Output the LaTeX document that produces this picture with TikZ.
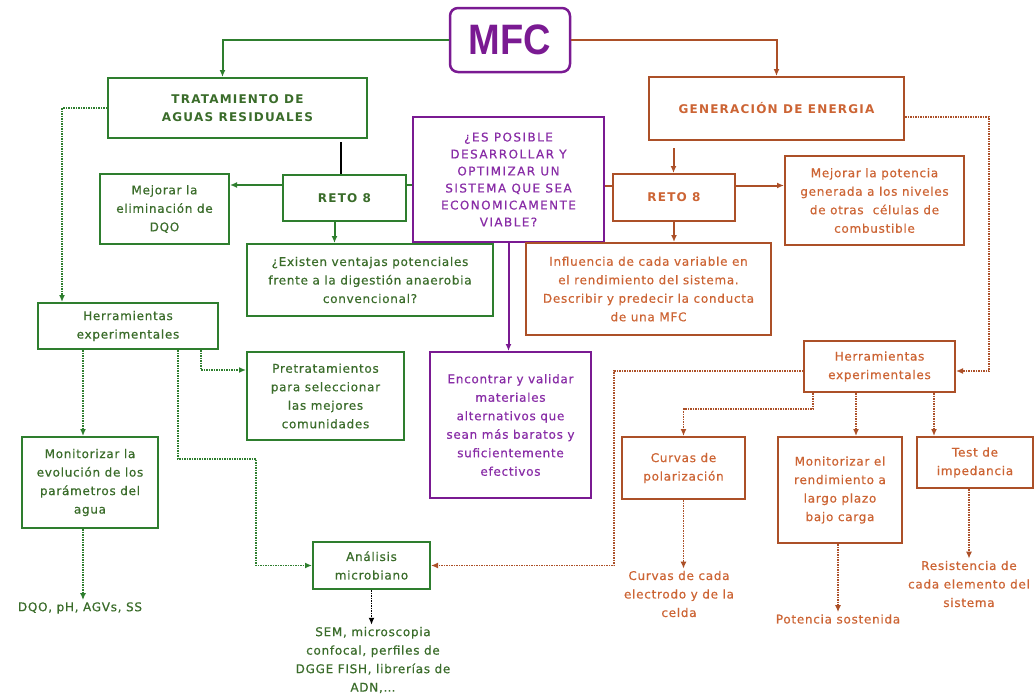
\documentclass[tikz,border=0pt]{standalone}
\usepackage{fontspec}
\setmainfont{DejaVu Sans}[LetterSpace=6,FakeBold=0.6]
\newfontfamily\titlefont{DejaVu Sans Bold}[LetterSpace=10]
\newfontfamily\askfont{DejaVu Sans}[LetterSpace=12,FakeBold=0.6]
\newfontfamily\mfcfont{Liberation Sans Bold}
\usetikzlibrary{arrows.meta}
\definecolor{mfcgreen}{RGB}{46,126,46}
\definecolor{mfcgreentext}{RGB}{58,108,42}
\definecolor{mfcorange}{RGB}{172,80,40}
\definecolor{mfcorangetext}{RGB}{204,100,52}
\definecolor{mfcpurple}{RGB}{122,26,146}
\definecolor{mfcpurpletext}{RGB}{136,44,166}
\def\colg{mfcgreen}
\def\colgt{mfcgreentext}
\def\colo{mfcorange}
\def\colot{mfcorangetext}
\def\colp{mfcpurple}
\def\colpt{mfcpurpletext}
\newcommand\boxfont{\fontsize{12}{18.5}\selectfont}

\begin{document}
\begin{tikzpicture}[x=1pt,y=-1pt]
\tikzstyle{gbox}=[draw=\colg, line width=2pt, text=\colgt, align=center, inner sep=2pt, font=\boxfont]
\tikzstyle{obox}=[draw=\colo, line width=2pt, text=\colot, align=center, inner sep=2pt, font=\boxfont]
\tikzstyle{pbox}=[draw=\colp, line width=2pt, text=\colpt, align=center, inner sep=2pt, font=\boxfont]
\tikzstyle{gtext}=[text=\colgt, align=center, inner sep=2pt, font=\boxfont]
\tikzstyle{otext}=[text=\colot, align=center, inner sep=2pt, font=\boxfont]
\tikzstyle{gline}=[draw=\colg, line width=2pt]
\tikzstyle{oline}=[draw=\colo, line width=2pt]
\tikzstyle{pline}=[draw=\colp, line width=2pt]
\tikzstyle{gdot}=[draw=\colg, line width=1.6pt, dash pattern=on 1.5pt off 1pt]
\tikzstyle{odot}=[draw=\colo, line width=1.6pt, dash pattern=on 1.5pt off 1pt]
\tikzstyle{kdot}=[draw=black, line width=1.6pt, dash pattern=on 1.5pt off 1pt]
\tikzstyle{arr}=[-{Latex[length=7pt,width=6pt]}]

\useasboundingbox (0,0) rectangle (1036,696);

\node (mfc) [draw=\colp, line width=2.5pt, rounded corners=8pt, minimum width=120pt, minimum height=64pt, text=\colp, font=\mfcfont\fontsize{38}{40}\selectfont] at (510,40) {\scalebox{1}[1.12]{MFC}};

\node (trat) [gbox, minimum width=259pt, minimum height=60pt, font=\titlefont\fontsize{12}{18}\selectfont] at (237.5,108) {TRATAMIENTO DE\\AGUAS RESIDUALES};
\node (gen) [obox, minimum width=255pt, minimum height=63pt, font=\titlefont\fontsize{12}{18}\selectfont] at (776.5,108.5) {GENERACIÓN DE ENERGIA};
\node (preg) [pbox, minimum width=191pt, minimum height=125pt, font=\askfont\fontsize{12}{17}\selectfont] at (508.5,179.5) {¿ES POSIBLE\\DESARROLLAR Y\\OPTIMIZAR UN\\SISTEMA QUE SEA\\ECONOMICAMENTE\\VIABLE?};

\node (reto1) [gbox, minimum width=123pt, minimum height=46pt, font=\titlefont\fontsize{12}{18}\selectfont] at (344.5,198) {RETO 8};
\node (dqo) [gbox, minimum width=129pt, minimum height=70pt] at (164.5,209) {Mejorar la\\eliminación de\\DQO};
\node (vent) [gbox, minimum width=246pt, minimum height=72pt] at (370,280) {¿Existen ventajas potenciales\\frente a la digestión anaerobia\\convencional?};

\node (reto2) [obox, minimum width=122pt, minimum height=47pt, font=\titlefont\fontsize{12}{18}\selectfont] at (674,197.5) {RETO 8};
\node (pot) [obox, minimum width=179pt, minimum height=89pt] at (874.5,200.5) {Mejorar la potencia\\generada a los niveles\\de otras~ células de\\combustible};
\node (infl) [obox, minimum width=245pt, minimum height=92pt] at (648.5,289) {Influencia de cada variable en\\el rendimiento del sistema.\\Describir y predecir la conducta\\de una MFC};

\node (enc) [pbox, minimum width=161pt, minimum height=146pt] at (510.5,425) {Encontrar y validar\\materiales\\alternativos que\\sean más baratos y\\suficientemente\\efectivos};

\node (herr1) [gbox, minimum width=180pt, minimum height=46pt] at (128,326) {Herramientas\\experimentales};
\node (pret) [gbox, minimum width=157pt, minimum height=88pt] at (325.5,396) {Pretratamientos\\para seleccionar\\las mejores\\comunidades};
\node (monev) [gbox, minimum width=136pt, minimum height=91pt] at (90,482.5) {Monitorizar la\\evolución de los\\parámetros del\\agua};
\node (anal) [gbox, minimum width=117pt, minimum height=47pt] at (371.5,565.5) {Análisis\\microbiano};
\node (dqopar) [gtext] at (80,608) {DQO, pH, AGVs, SS};
\node (sem) [gtext] at (373,660) {SEM, microscopia\\confocal, perfiles de\\DGGE FISH, librerías de\\ADN,…};

\node (herr2) [obox, minimum width=151pt, minimum height=51pt] at (879.5,366.5) {Herramientas\\experimentales};
\node (pol) [obox, minimum width=123pt, minimum height=62pt] at (683.5,468) {Curvas de\\polarización};
\node (monren) [obox, minimum width=124pt, minimum height=106pt] at (840,490) {Monitorizar el\\rendimiento a\\largo plazo\\bajo carga};
\node (imp) [obox, minimum width=116pt, minimum height=51pt] at (975,462.5) {Test de\\impedancia};
\node (celda) [otext] at (679,594) {Curvas de cada\\electrodo y de la\\celda};
\node (potsos) [otext] at (838,619) {Potencia sostenida};
\node (resis) [otext] at (969,584) {Resistencia de\\cada elemento del\\sistema};

\path (trat.north) + (-15,0) coordinate (trn);
\draw [gline, arr] (mfc.west) -| (trn);
\draw [oline, arr] (mfc.east) -| (gen.north);

\path (reto1.north) + (-4,-32) coordinate (r1top);
\draw [line width=2pt] (r1top) -- (r1top |- reto1.north);
\path (reto1.west) + (0,-13) coordinate (r1w);
\path (reto1.east) + (0,-13) coordinate (r1e);
\path (reto1.south) + (-10,0) coordinate (r1s);
\draw [gline, arr] (r1w) -- (r1w -| dqo.east);
\draw [gline] (r1e) -- (r1e -| preg.west);
\draw [gline, arr] (r1s) -- (r1s |- vent.north);

\path (gen.south) + (-103,7) coordinate (gs);
\path (reto2.west) + (0,-12) coordinate (r2w);
\path (reto2.east) + (0,-12) coordinate (r2e);
\draw [oline, arr] (gs) -- (gs |- reto2.north);
\draw [oline] (r2w -| preg.east) -- (r2w);
\draw [oline, arr] (r2e) -- (r2e -| pot.west);
\draw [oline, arr] (reto2.south) -- (reto2.south |- infl.north);
\draw [pline, arr] (preg.south) -- (preg.south |- enc.north);

\path (herr1.north) + (-66,0) coordinate (h1n);
\path (herr1.south) + (-45,0) coordinate (h1s1);
\path (herr1.south) + (50,0) coordinate (h1s2);
\path (herr1.south) + (73,0) coordinate (h1s3);
\path (monev.south) + (-7,0) coordinate (mes);
\path (anal.west) + (-56,-106.5) coordinate (abend);
\path (pret.west) + (0,-26) coordinate (pw);
\draw [gdot, arr] (trat.west) -| (h1n);
\draw [gdot, arr] (h1s1) -- (h1s1 |- monev.north);
\draw [gdot, arr] (mes) -- (mes |- dqopar.north);
\draw [gdot, arr] (h1s2) |- (abend) |- (anal.west);
\draw [gdot, arr] (h1s3) |- (pw);
\draw [kdot, arr] (anal.south) -- (anal.south |- sem.north);

\path (gen.east) + (0,8.5) coordinate (ge);
\path (herr2.east) + (0,4.5) coordinate (h2e);
\path (herr2.west) + (0,4.5) coordinate (h2w);
\path (anal.east) + (183,0) coordinate (aeb);
\path (herr2.south) + (-66.5,0) coordinate (h2s1);
\path (herr2.south) + (-23.5,0) coordinate (h2s2);
\path (herr2.south) + (54.5,0) coordinate (h2s3);
\path (pol.north) + (0,-27) coordinate (pn);
\path (monren.south) + (-2,0) coordinate (mrs);
\path (imp.south) + (-6,0) coordinate (ims);
\draw [odot, arr] (ge) -- ++(84,0) |- (h2e);
\draw [odot, arr] (h2w) -| (aeb) -- (anal.east);
\draw [odot, arr] (h2s1) |- (pn) -- (pol.north);
\draw [odot, arr] (h2s2) -- (h2s2 |- monren.north);
\draw [odot, arr] (h2s3) -- (h2s3 |- imp.north);
\draw [odot, arr] (pol.south) -- (pol.south |- celda.north);
\draw [odot, arr] (mrs) -- (mrs |- potsos.north);
\draw [odot, arr] (ims) -- (ims |- resis.north);

\end{tikzpicture}
\end{document}
